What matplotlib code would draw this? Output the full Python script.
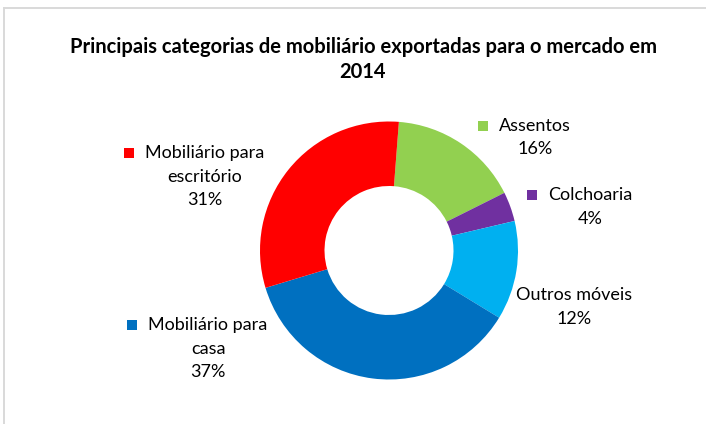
import matplotlib
matplotlib.use("Agg")
import matplotlib.pyplot as plt
from matplotlib.patches import Rectangle
from matplotlib.lines import Line2D

# dados do gráfico (ordem horária a partir do topo)
categorias = ["Assentos", "Colchoaria", "Outros móveis", "Mobiliário para\ncasa", "Mobiliário para\nescritório"]
valores = [16.4, 3.7, 12.4, 36.6, 30.9]
cores = ["#92D050", "#7030A0", "#00B0F0", "#0070C0", "#FF0000"]
titulo = "Principais categorias de mobiliário exportadas para o mercado em\n2014"

W, H = 706, 424
plt.rcParams['font.family'] = ['Lato', 'DejaVu Sans']

def px(x, y):
    return x / W, 1 - y / H

fig = plt.figure(figsize=(W / 100, H / 100), dpi=100)

# borda da área do gráfico (cortada à direita e em baixo)
fig.add_artist(Line2D([4 / W, 1.0], [1 - 7.5 / H] * 2, color="#D9D9D9", lw=1.4))
fig.add_artist(Line2D([4 / W] * 2, [1 - 7.5 / H, 0.0], color="#D9D9D9", lw=1.4))

fig.text(*px(363, 59.5), titulo, ha="center", va="center", fontsize=14.5,
         fontweight="bold", linespacing=1.3, color="#000000")

# rosca
cx, cy, r = 389, 250.5, 129
ax = fig.add_axes([(cx - r) / W, (H - cy - r) / H, 2 * r / W, 2 * r / H])
ax.pie(valores, colors=cores, startangle=85.6, counterclock=False, radius=1,
       wedgeprops=dict(width=0.5, edgecolor="none"))
ax.set_xlim(-1, 1)
ax.set_ylim(-1, 1)
ax.set_aspect("equal")
ax.axis("off")

# rótulos: (centro x do texto, y da primeira linha, mostra marcador)
rotulos = [(535, 126, True), (590, 195, True), (574, 295, False), (208, 325, True), (205, 153, True)]
for cat, val, cor, (tx, ty, marca) in zip(categorias, valores, cores, rotulos):
    linhas = cat.split("\n") + [f"{round(val)}%"]
    for i, ln in enumerate(linhas):
        fig.text(*px(tx, ty + i * 23.5), ln, ha="center", va="center",
                 fontsize=13, color="#000000")
    if marca:
        t = fig.text(*px(tx, ty), linhas[0], ha="center", va="center", fontsize=13, alpha=0)
        fig.canvas.draw()
        bb = t.get_window_extent()
        x0 = bb.x0 - 21
        fig.add_artist(Rectangle((x0 / W, (H - ty - 5) / H), 10 / W, 10 / H,
                                 transform=fig.transFigure, color=cor, lw=0))

fig.savefig("out.png", dpi=100)
